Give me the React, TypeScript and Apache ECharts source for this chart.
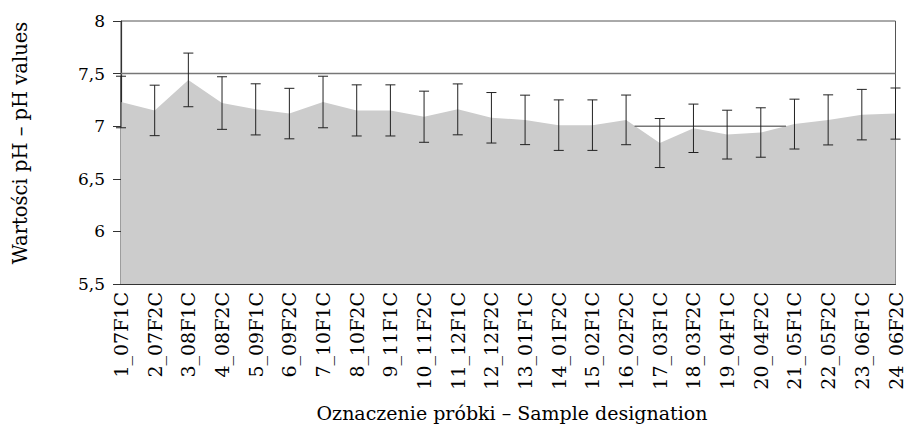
import React, { useEffect, useRef } from "react";
import * as echarts from "echarts";

// Sample designations along the x axis
const categories: string[] = [
  "1_07F1C", "2_07F2C", "3_08F1C", "4_08F2C", "5_09F1C", "6_09F2C",
  "7_10F1C", "8_10F2C", "9_11F1C", "10_11F2C", "11_12F1C", "12_12F2C",
  "13_01F1C", "14_01F2C", "15_02F1C", "16_02F2C", "17_03F1C", "18_03F2C",
  "19_04F1C", "20_04F2C", "21_05F1C", "22_05F2C", "23_06F1C", "24_06F2C",
];

// Mean pH per sample
const phMean: number[] = [
  7.23, 7.15, 7.44, 7.22, 7.16, 7.12, 7.23, 7.15, 7.15, 7.09, 7.16, 7.08,
  7.06, 7.01, 7.01, 7.06, 6.84, 6.98, 6.92, 6.94, 7.02, 7.06, 7.11, 7.12,
];

// Half-width of the error bar per sample
const phError: number[] = [
  0.245, 0.24, 0.255, 0.25, 0.243, 0.24, 0.245, 0.243, 0.243, 0.243, 0.242, 0.24,
  0.235, 0.24, 0.24, 0.236, 0.233, 0.23, 0.232, 0.235, 0.237, 0.238, 0.24, 0.243,
];

// Reference levels: [x start index, x end index, pH]
const refUpper: [number, number, number] = [0, 23, 7.5];
const refLower: [number, number, number] = [15.25, 19.75, 7.0];

const yTickLabels: Record<string, string> = {
  "5.5": "5,5", "6": "6", "6.5": "6,5", "7": "7", "7.5": "7,5", "8": "8",
};

const FONT = "'DejaVu Serif', 'Liberation Serif', serif";

export default function App() {
  const ref = useRef<HTMLDivElement>(null);

  useEffect(() => {
    if (!ref.current) return;
    const chart = echarts.init(ref.current, null, { renderer: "svg" });

    const errorData = phMean.map((m, i) => [i, m - phError[i], m + phError[i]]);

    chart.setOption({
      animation: false,
      backgroundColor: "#ffffff",
      grid: {
        left: 121, right: 3, top: 21, bottom: 144,
        show: true, borderColor: "#555", borderWidth: 1, backgroundColor: "transparent",
      },
      xAxis: [
        {
          type: "category",
          data: categories,
          boundaryGap: false,
          axisLine: { lineStyle: { color: "#333", width: 1.2 } },
          axisTick: { show: false },
          axisLabel: {
            rotate: 90, interval: 0, margin: 8,
            color: "#000", fontFamily: FONT, fontSize: 19,
          },
          splitLine: { show: false },
        },
        { type: "value", min: 0, max: 23, show: false },
      ],
      yAxis: {
        type: "value",
        min: 5.5, max: 8, interval: 0.5,
        axisLine: { show: true, lineStyle: { color: "#333", width: 1.2 } },
        axisTick: { show: true, inside: false, length: 8, lineStyle: { color: "#333" } },
        axisLabel: {
          margin: 16, color: "#000", fontFamily: FONT, fontSize: 17,
          formatter: (v: number) => yTickLabels[String(v)] ?? String(v),
        },
        splitLine: { show: false },
      },
      graphic: [
        {
          type: "text", x: 20, y: 143, rotation: Math.PI / 2, originX: 0, originY: 0,
          style: {
            text: "Wartości pH – pH values", fontFamily: FONT, fontSize: 19.5,
            fill: "#000", align: "center", verticalAlign: "middle",
          },
        },
        {
          type: "text", x: 512, y: 413,
          style: {
            text: "Oznaczenie próbki – Sample designation", fontFamily: FONT, fontSize: 19,
            fill: "#000", align: "center", verticalAlign: "middle",
          },
        },
      ],
      series: [
        {
          type: "line",
          data: phMean,
          showSymbol: false,
          lineStyle: { width: 0 },
          areaStyle: { color: "#cccccc", opacity: 1 },
          z: 1,
        },
        {
          type: "line",
          xAxisIndex: 1,
          data: [[refUpper[0], refUpper[2]], [refUpper[1], refUpper[2]]],
          showSymbol: false,
          lineStyle: { color: "#777", width: 1.5 },
          z: 3,
        },
        {
          type: "line",
          xAxisIndex: 1,
          data: [[refLower[0], refLower[2]], [refLower[1], refLower[2]]],
          showSymbol: false,
          lineStyle: { color: "#777", width: 1.5 },
          z: 3,
        },
        {
          type: "custom",
          data: errorData,
          z: 4,
          renderItem: (params: any, api: any) => {
            const i = api.value(0);
            const lo = api.coord([i, api.value(1)]);
            const hi = api.coord([i, api.value(2)]);
            const w = 5;
            const style = { stroke: "#222", lineWidth: 1 };
            return {
              type: "group",
              children: [
                { type: "line", shape: { x1: lo[0], y1: lo[1], x2: hi[0], y2: hi[1] }, style },
                { type: "line", shape: { x1: hi[0] - w, y1: hi[1], x2: hi[0] + w, y2: hi[1] }, style },
                { type: "line", shape: { x1: lo[0] - w, y1: lo[1], x2: lo[0] + w, y2: lo[1] }, style },
              ],
            };
          },
        },
      ],
    });

    return () => chart.dispose();
  }, []);

  return (
    <div
      ref={ref}
      style={{ position: "fixed", left: 0, top: 0, width: 905, height: 428 }}
    />
  );
}
